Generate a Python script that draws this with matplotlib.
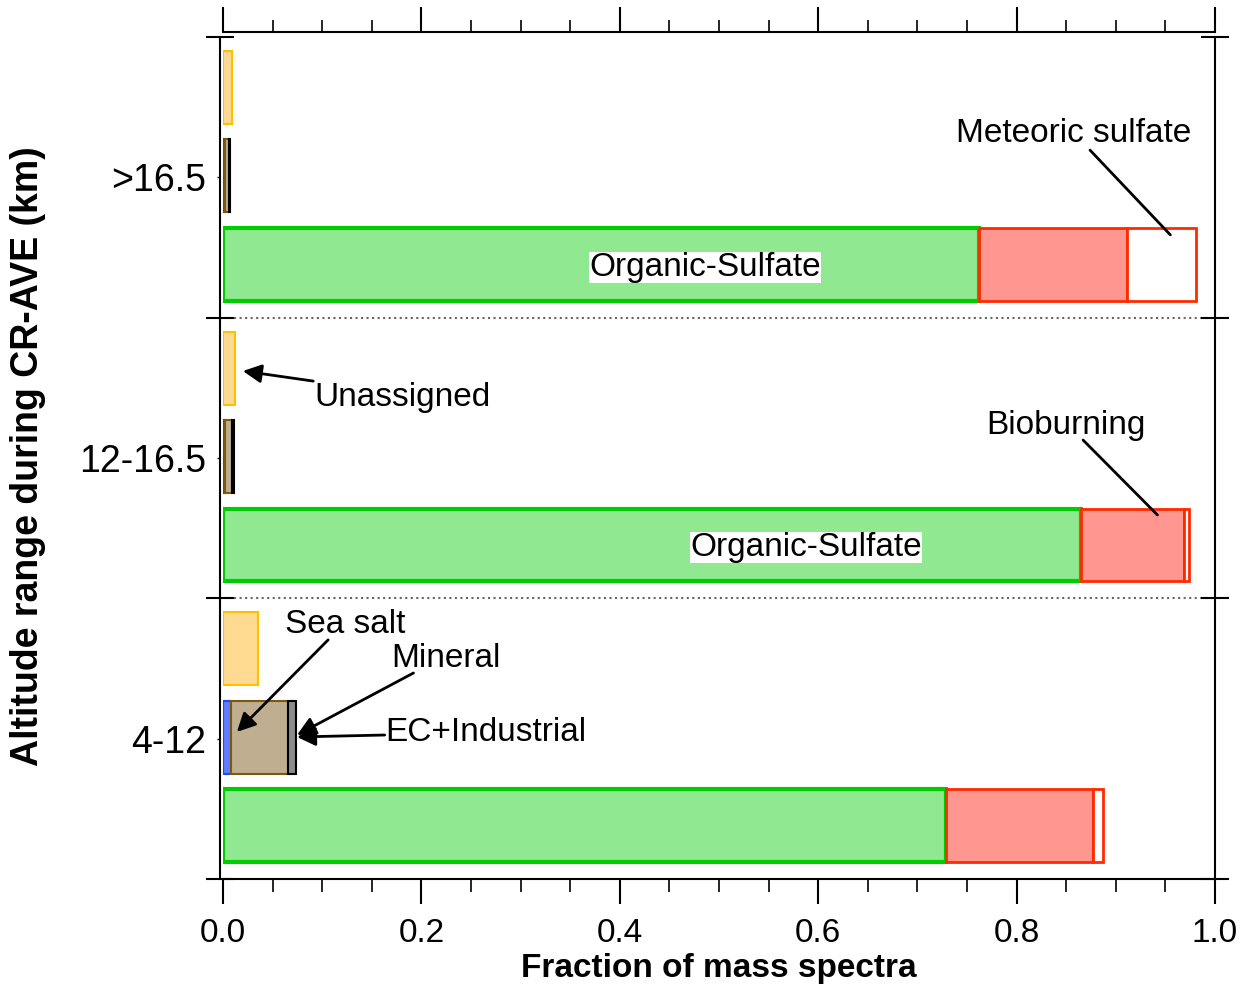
import matplotlib
matplotlib.use("Agg")
import matplotlib.pyplot as plt
import numpy as np
from matplotlib.ticker import MultipleLocator

plt.rcParams['font.family'] = ['Liberation Sans', 'DejaVu Sans']

# altitude groups, bottom to top
groups = ["4-12", "12-16.5", ">16.5"]

# fractions of mass spectra per group (same order as groups)
unassigned = [0.035, 0.012, 0.009]
sea_salt = [0.008, 0.002, 0.002]
mineral = [0.058, 0.0075, 0.004]
ec_industrial = [0.008, 0.0013, 0.001]
organic_sulfate = [0.729, 0.865, 0.762]
bioburning = [0.148, 0.104, 0.149]
meteoric_sulfate = [0.010, 0.005, 0.070]

fig = plt.figure(figsize=(12.41, 9.85), dpi=100)
ax = fig.add_axes([223 / 1241, 106 / 985, 992 / 1241, 842 / 985])

base = np.arange(len(groups))
h = 0.26
y_top = base + 0.82
y_mid = base + 0.505
y_big = base + 0.19

# unassigned
ax.barh(y_top, unassigned, height=h, color="#FFDA90", edgecolor="#FFC000", linewidth=1.5)

# sea salt / mineral / EC stack
left = np.zeros(len(groups))
for vals, fc, ec in [(sea_salt, "#5F7DFF", "#1E46FF"),
                     (mineral, "#BFAE8F", "#7A5A10"),
                     (ec_industrial, "#8C8C8C", "black")]:
    ax.barh(y_mid, vals, left=left, height=h, color=fc, edgecolor=ec, linewidth=1.5)
    left = left + np.array(vals)

# organic-sulfate / bioburning / meteoric stack
left = np.zeros(len(groups))
for vals, fc, ec, lw in [(organic_sulfate, "#90E890", "#00CC00", 3),
                         (bioburning, "#FF9690", "#FF2A00", 2),
                         (meteoric_sulfate, "white", "#FF2A00", 2)]:
    ax.barh(y_big, vals, left=left, height=h, color=fc, edgecolor=ec, linewidth=lw)
    left = left + np.array(vals)

# group separators
for yy in [1, 2]:
    ax.axhline(yy, color="#666666", ls=":", lw=1.5, zorder=0)

ax.set_xlim(0, 1.0)
ax.set_ylim(0, 3)

# axes styling
for s in ax.spines.values():
    s.set_linewidth(1.5)
ax.spines['top'].set_position(('outward', 3.6))
ax.spines['left'].set_position(('outward', 2))

ax.xaxis.set_minor_locator(MultipleLocator(0.05))
ax.set_xticks(np.arange(0, 1.01, 0.2))
ax.set_xticklabels(["0.0", "0.2", "0.4", "0.6", "0.8", "1.0"])
ax.tick_params(axis='x', which='major', direction='out', length=18, width=1.5,
               top=True, bottom=True, labelsize=24, pad=10)
ax.tick_params(axis='x', which='minor', direction='out', length=9, width=1.2,
               top=True, bottom=True)

ax.set_yticks([0, 1, 2, 3])
ax.set_yticklabels([])
ax.set_yticks(base + 0.5, groups, minor=True)
ax.tick_params(axis='y', which='major', direction='inout', length=20, width=1.5,
               left=True, right=True)
ax.tick_params(axis='y', which='minor', direction='out', length=2, width=1,
               left=True, right=False, labelsize=27, pad=8)

ax.set_xlabel("Fraction of mass spectra", fontsize=24, fontweight='bold')
ax.xaxis.set_label_coords(0.5, -0.088)
ax.set_ylabel("Altitude range during CR-AVE (km)", fontsize=27, fontweight='bold')
ax.yaxis.set_label_coords(-0.178, 0.502)

# labels inside bars
fs = 24
for i, xc in [(2, 0.486), (1, 0.588)]:
    ax.text(xc, y_big[i] - 0.01, "Organic-Sulfate", fontsize=fs,
            ha='center', va='center',
            bbox=dict(facecolor='white', edgecolor='none', pad=0))

arrow = dict(arrowstyle='-|>', color='black', lw=2, mutation_scale=28,
             shrinkA=0, shrinkB=0)
line = dict(arrowstyle='-', color='black', lw=2, shrinkA=0, shrinkB=0)

ax.text(0.857, 2.655, "Meteoric sulfate", fontsize=fs, ha='center', va='center')
ax.annotate("", xy=(0.955, 2.295), xytext=(0.874, 2.597), arrowprops=line)

ax.text(0.850, 1.615, "Bioburning", fontsize=fs, ha='center', va='center')
ax.annotate("", xy=(0.942, 1.297), xytext=(0.867, 1.564), arrowprops=line)

ax.text(0.092, 1.714, "Unassigned", fontsize=fs, ha='left', va='center')
ax.annotate("", xy=(0.020, 1.810), xytext=(0.091, 1.774), arrowprops=arrow)

ax.text(0.0625, 0.906, "Sea salt", fontsize=fs, ha='left', va='center')
ax.annotate("", xy=(0.014, 0.524), xytext=(0.106, 0.852), arrowprops=arrow)

ax.text(0.170, 0.785, "Mineral", fontsize=fs, ha='left', va='center')
ax.annotate("", xy=(0.0746, 0.513), xytext=(0.192, 0.734), arrowprops=arrow)

ax.text(0.164, 0.521, "EC+Industrial", fontsize=fs, ha='left', va='center')
ax.annotate("", xy=(0.0746, 0.506), xytext=(0.163, 0.513), arrowprops=arrow)

fig.savefig("out.png", dpi=100)
